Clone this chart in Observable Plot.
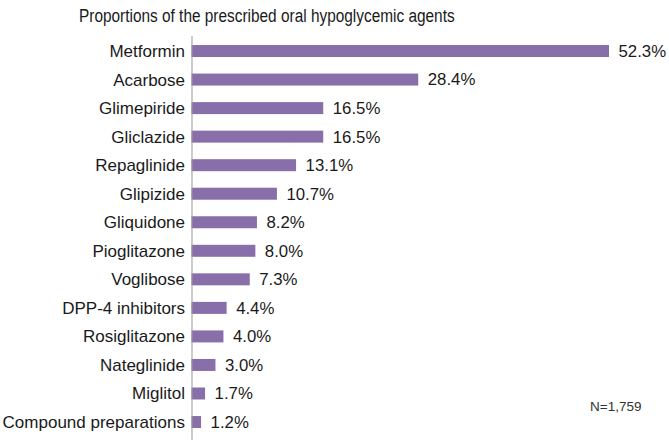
<!DOCTYPE html>
<html>
<head>
<meta charset="utf-8">
<script src="https://cdn.jsdelivr.net/npm/d3@7"></script>
<script src="https://cdn.jsdelivr.net/npm/@observablehq/plot@0.6"></script>
<style>
  html, body { margin: 0; padding: 0; background: #fff; }
  body { width: 669px; height: 440px; overflow: hidden; position: relative; font-family: "Liberation Sans", Arial, Helvetica, sans-serif; }
  #title { position: absolute; left: 79px; top: 6px; font-size: 17.6px; line-height: 20px; color: #1a1a1a; white-space: nowrap; transform: scaleX(0.875); transform-origin: 0 0; }
  #chart { position: absolute; left: 0; top: 36px; }
</style>
</head>
<body>
<div id="title">Proportions of the prescribed oral hypoglycemic agents</div>
<div id="chart"></div>
<script>
const categories = ["Metformin", "Acarbose", "Glimepiride", "Gliclazide", "Repaglinide", "Glipizide", "Gliquidone", "Pioglitazone", "Voglibose", "DPP-4 inhibitors", "Rosiglitazone", "Nateglinide", "Miglitol", "Compound preparations"];
const values = [52.3, 28.4, 16.5, 16.5, 13.1, 10.7, 8.2, 8.0, 7.3, 4.4, 4.0, 3.0, 1.7, 1.2];
const note = "N=1,759";

const data = categories.map((c, i) => ({category: c, value: values[i], label: values[i].toFixed(1) + "%"}));

const chart = Plot.plot({
  width: 669,
  height: 404,
  marginLeft: 191.5,
  marginRight: 6.5,
  marginTop: 0,
  marginBottom: 0,
  style: {fontFamily: "\"Liberation Sans\", Arial, Helvetica, sans-serif", fontSize: "17px", color: "#1a1a1a", background: "#fff"},
  x: {domain: [0, 59], axis: null},
  y: {domain: categories, paddingInner: 0.58, paddingOuter: 0.368, align: 0.43, round: false, label: null},
  marks: [
    Plot.barX(data, {x: "value", y: "category", fill: "#886fa9"}),
    Plot.ruleX([0], {stroke: "#999", strokeWidth: 1}),
    Plot.axisY({tickSize: 0, tickPadding: 7, fontSize: "17px", label: null}),
    Plot.text(data, {x: "value", y: "category", text: "label", textAnchor: "start", dx: 9, fontSize: "16.8px", fill: "#1a1a1a"}),
    Plot.text([note], {frameAnchor: "bottom-right", textAnchor: "end", dx: -21.5, dy: -30, fontSize: "13.5px", fill: "#333"})
  ]
});
document.getElementById("chart").appendChild(chart);
</script>
</body>
</html>
